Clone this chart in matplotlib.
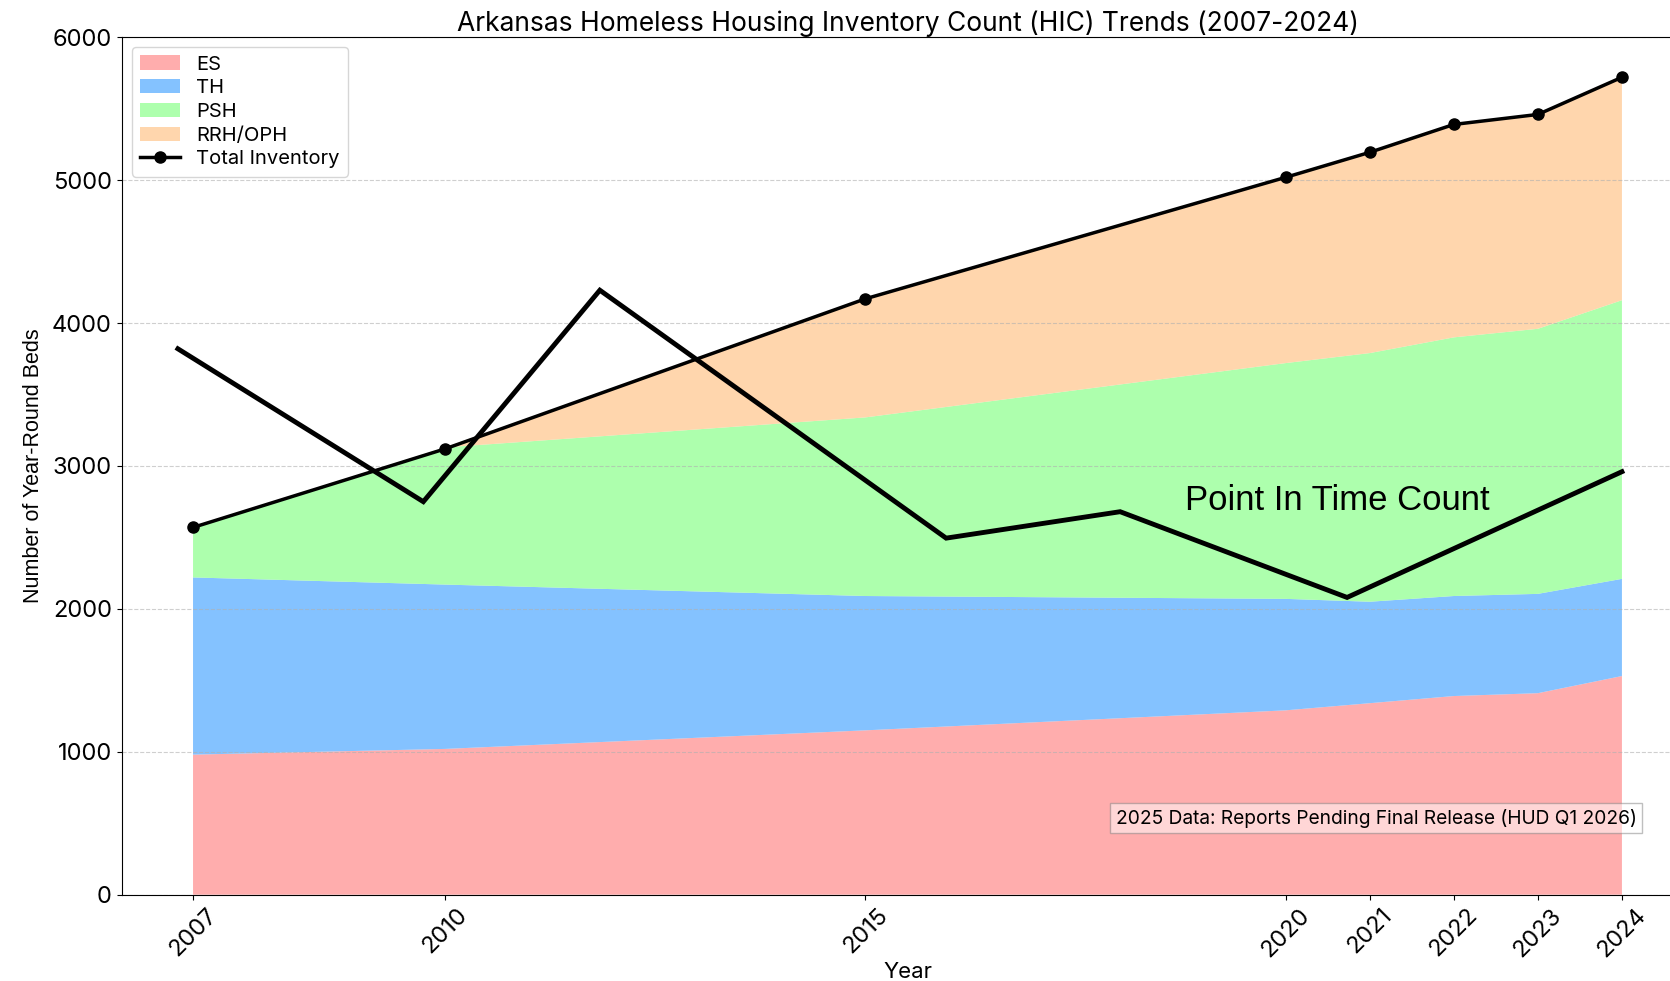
import matplotlib.pyplot as plt
import numpy as np

# HIC bed counts by type
years = [2007, 2010, 2015, 2020, 2021, 2022, 2023, 2024]
es = [980, 1020, 1150, 1290, 1340, 1390, 1410, 1530]
th = [1240, 1150, 940, 780, 710, 700, 695, 680]
psh = [350, 960, 1250, 1650, 1740, 1810, 1855, 1950]
rrh = [0, 0, 830, 1300, 1405, 1490, 1500, 1560]
total = [2570, 3120, 4170, 5020, 5195, 5390, 5460, 5720]

# point in time count overlay
pit_x = [2006.82, 2009.74, 2011.84, 2015.96, 2018.03, 2020.73, 2024.0]
pit_y = [3820, 2750, 4230, 2495, 2680, 2080, 2960]

labels = ["ES", "TH", "PSH", "RRH/OPH"]
colors = ["#ff9999", "#66b3ff", "#99ff99", "#ffcc99"]

plt.rcParams["font.family"] = "Inter"

fig = plt.figure(figsize=(16.7, 9.81), dpi=100)
ax = fig.add_axes([0.0728, 0.088, 0.9412, 0.874])

ax.stackplot(years, es, th, psh, rrh, labels=labels, colors=colors, alpha=0.8)
ax.plot(years, total, color="black", linewidth=2.5, marker="o", markersize=8,
        label="Total Inventory")
ax.plot(pit_x, pit_y, color="black", linewidth=3.5, solid_joinstyle="miter")
ax.text(2018.8, 2760, "Point In Time Count", fontsize=25,
        family="Liberation Sans", va="center")

ax.set_xlim(2006.15, 2024.85)
ax.set_ylim(0, 6000)
ax.set_xticks(years)
ax.set_xticklabels([str(y) for y in years], rotation=45, fontsize=17)
ax.tick_params(axis="y", labelsize=17)
ax.set_yticks(np.arange(0, 6001, 1000))
ax.grid(axis="y", linestyle="--", alpha=0.6)
ax.spines["right"].set_visible(False)

ax.set_title("Arkansas Homeless Housing Inventory Count (HIC) Trends (2007-2024)",
             fontsize=19, pad=4)
ax.set_xlabel("Year", fontsize=16, labelpad=0)
ax.set_ylabel("Number of Year-Round Beds", fontsize=15.5, family="Liberation Sans",
              labelpad=6)

ax.legend(loc="upper left", fontsize=14.5, labelspacing=0.28)

ax.text(0.964, 0.089, "2025 Data: Reports Pending Final Release (HUD Q1 2026)",
        transform=ax.transAxes, ha="right", va="center", fontsize=13.8,
        bbox=dict(facecolor="white", alpha=0.5, edgecolor="gray"))

fig.savefig("out.png", dpi=100)
